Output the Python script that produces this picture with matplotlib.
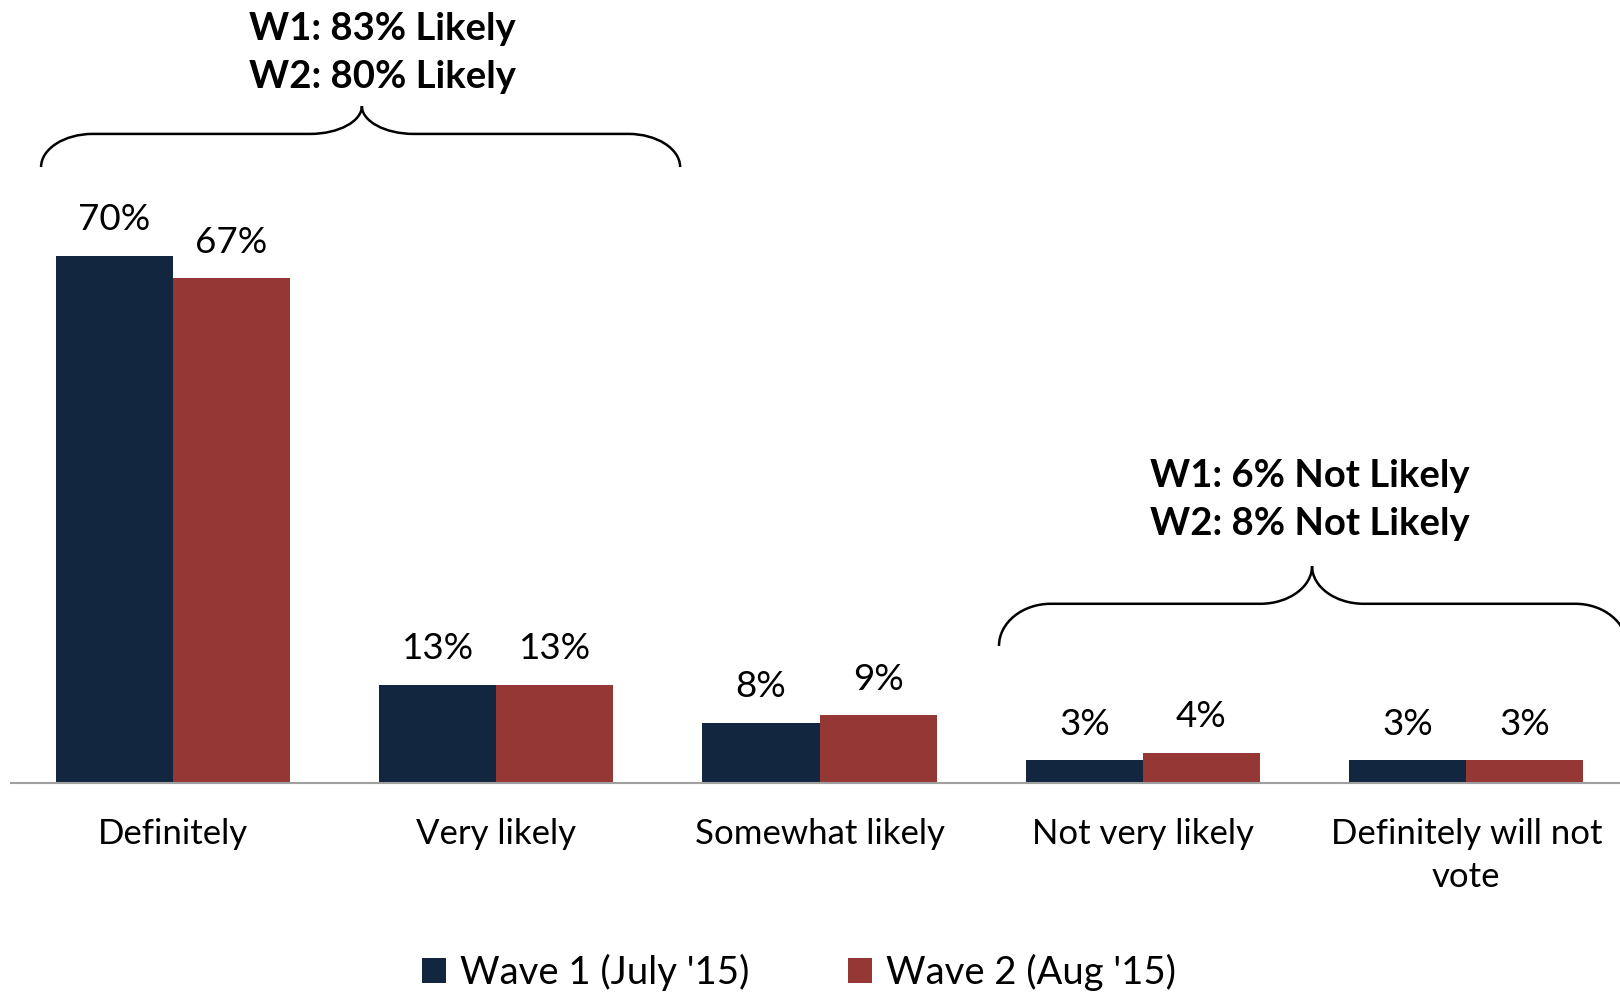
import matplotlib
matplotlib.use('Agg')
import matplotlib.pyplot as plt
import numpy as np
from matplotlib.path import Path
from matplotlib.patches import PathPatch

plt.rcParams['font.family'] = ['Lato', 'DejaVu Sans']

# data
categories = ['Definitely', 'Very likely', 'Somewhat likely', 'Not very likely', 'Definitely will not\nvote']
wave1 = [70, 13, 8, 3, 3]
wave2 = [67, 13, 9, 4, 3]
series_names = ["Wave 1 (July '15)", "Wave 2 (Aug '15)"]
likely_text = 'W1: 83% Likely\nW2: 80% Likely'
not_likely_text = 'W1: 6% Not Likely\nW2: 8% Not Likely'

navy = '#12263F'
red = '#953735'

W, H = 1620, 994
fig = plt.figure(figsize=(W / 100, H / 100), dpi=100)
# axes placed in pixel terms: x line from 11 to 1628 px, baseline at y=783 px
ax = fig.add_axes([11 / W, (H - 783) / H, 1617 / W, 753 / H])
ax.set_xlim(-0.5, 4.5)
ax.set_ylim(0, 100)

x = np.arange(len(categories))
bw = 0.362
b1 = ax.bar(x - bw / 2, wave1, bw, color=navy, label=series_names[0])
b2 = ax.bar(x + bw / 2, wave2, bw, color=red, label=series_names[1])

for bars, vals in [(b1, wave1), (b2, wave2)]:
    for bar, v in zip(bars, vals):
        ax.text(bar.get_x() + bar.get_width() / 2, v + 4.8, f'{v}%',
                ha='center', va='center', fontsize=26.5)

ax.set_xticks(x)
ax.set_xticklabels(categories, fontsize=25, linespacing=1.44)
ax.tick_params(axis='x', length=0, pad=25)
ax.set_yticks([])
for s in ['top', 'left', 'right']:
    ax.spines[s].set_visible(False)
ax.spines['bottom'].set_color('#A0A0A0')
ax.spines['bottom'].set_linewidth(1.5)


def brace(ax, x0, x1, xm, yb, yh, yt, rx):
    k = 0.55
    verts = [
        (x0, yb), (x0, yb + k * (yh - yb)), (x0 + (1 - k) * rx, yh), (x0 + rx, yh),
        (xm - rx, yh),
        (xm - (1 - k) * rx, yh), (xm, yh + (1 - k) * (yt - yh)), (xm, yt),
        (xm, yh + (1 - k) * (yt - yh)), (xm + (1 - k) * rx, yh), (xm + rx, yh),
        (x1 - rx, yh),
        (x1 - (1 - k) * rx, yh), (x1, yb + k * (yh - yb)), (x1, yb),
    ]
    codes = [Path.MOVETO, Path.CURVE4, Path.CURVE4, Path.CURVE4,
             Path.LINETO,
             Path.CURVE4, Path.CURVE4, Path.CURVE4,
             Path.CURVE4, Path.CURVE4, Path.CURVE4,
             Path.LINETO,
             Path.CURVE4, Path.CURVE4, Path.CURVE4]
    ax.add_patch(PathPatch(Path(verts, codes), fill=False, lw=1.8,
                           edgecolor='black', clip_on=False))


brace(ax, -0.407, 1.569, 0.585, 81.8, 86.2, 89.9, 0.16)
brace(ax, 2.555, 4.497, 3.523, 18.2, 23.8, 28.8, 0.16)

ax.text(0.647, 96.9, likely_text, ha='center', va='center', fontsize=27.5,
        fontweight='bold', linespacing=1.5, clip_on=False)
ax.text(3.517, 37.6, not_likely_text, ha='center', va='center', fontsize=27.5,
        fontweight='bold', linespacing=1.5, clip_on=False)

fig.legend(handles=[b1, b2], loc='center', bbox_to_anchor=(799 / W, 22 / H),
           ncol=2, frameon=False, fontsize=27.5, handlelength=0.63, handleheight=0.63,
           handletextpad=0.35, columnspacing=2.6)

fig.savefig('out.png', dpi=100)
